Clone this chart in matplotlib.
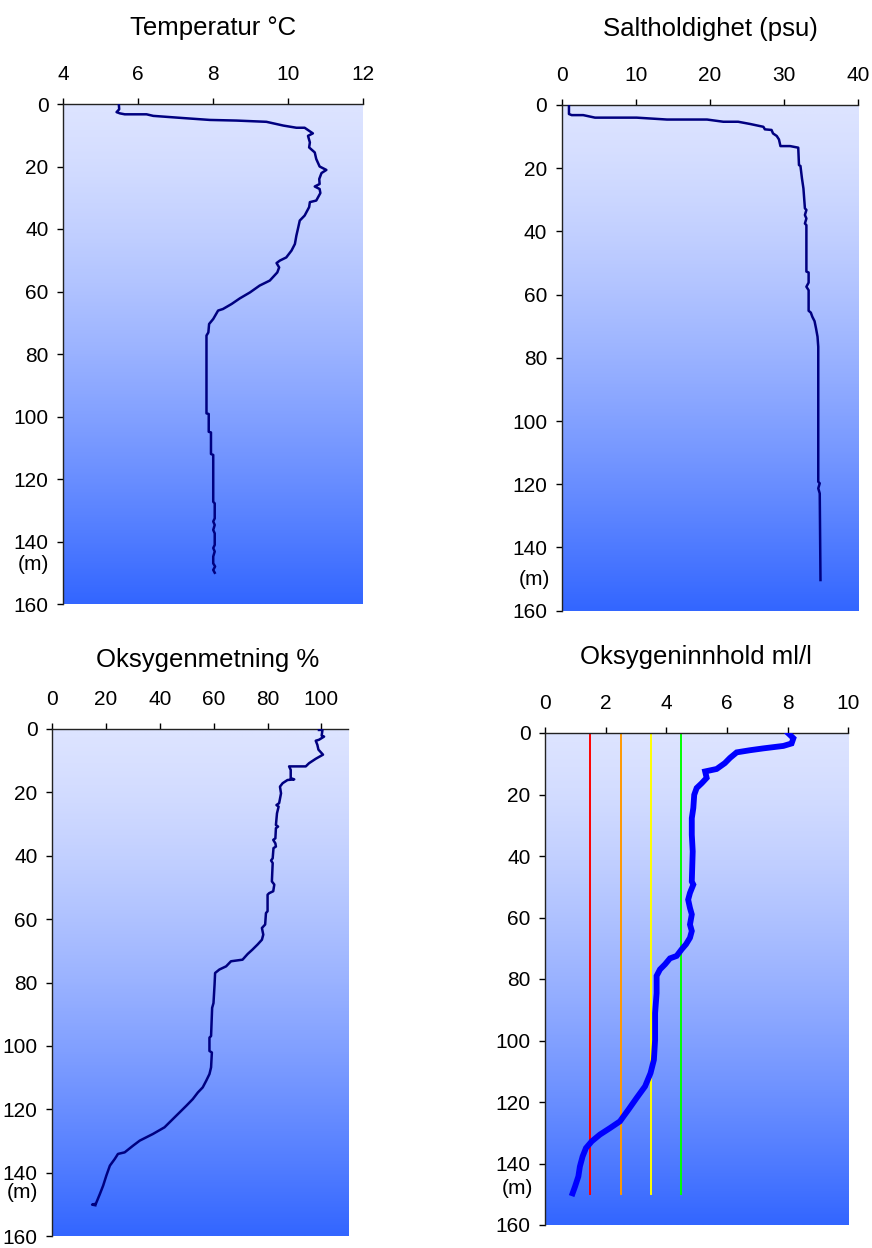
import numpy as np
import matplotlib
matplotlib.use("Agg")
import matplotlib.pyplot as plt
from matplotlib.colors import LinearSegmentedColormap
import matplotlib.transforms as mtransforms

plt.rcParams['font.family'] = ['Liberation Sans', 'DejaVu Sans']

# ---------------- data ----------------
temp_depth = [0, 1.7, 2.6, 3.0, 3.3, 3.3, 3.8, 4.5, 5.1, 5.3, 5.7, 6.9, 7.6, 7.6, 9.4, 10.2,
              12.3, 13.9, 15.5, 17.6, 20.0, 21.1, 22.1, 24.0, 25.6, 26.4, 27.2, 28.5, 30.9,
              31.4, 33.0, 35.7, 37.3, 40.0, 42.1, 44.8, 46.9, 49.1, 50.1, 50.9, 52.3, 53.9,
              56.5, 58.1, 60.3, 62.2, 64.0, 65.6, 66.1, 68.8, 70.4, 73.1, 74.1, 99.0, 99.2,
              104.9, 105.1, 112.0, 112.3, 127.3, 127.8, 132.6, 133.6, 134.7, 136.3, 137.4,
              141.1, 142.1, 143.2, 144.8, 147.0, 148.0, 149.1, 150.0]
temp_val = [5.49, 5.5, 5.43, 5.52, 5.65, 6.23, 6.41, 7.21, 7.92, 8.63, 9.43, 9.88, 10.23, 10.45,
            10.67, 10.54, 10.59, 10.57, 10.72, 10.76, 10.85, 11.03, 10.9, 10.84, 10.85, 10.72,
            10.85, 10.87, 10.76, 10.59, 10.57, 10.45, 10.32, 10.27, 10.23, 10.19, 10.1, 9.96,
            9.79, 9.7, 9.77, 9.72, 9.52, 9.25, 8.99, 8.72, 8.5, 8.27, 8.14, 8.01, 7.9, 7.88,
            7.83, 7.83, 7.89, 7.89, 7.95, 7.95, 8.01, 8.01, 8.05, 8.05, 8.01, 8.05, 8.01, 8.05,
            8.05, 8.01, 8.05, 8.01, 8.01, 8.06, 8.01, 8.05]

salt_depth = [0, 2.85, 3.2, 3.2, 4.0, 4.0, 4.6, 4.6, 5.3, 5.3, 6.0, 6.9, 7.7, 7.9, 9.0, 9.8,
              10.9, 13.0, 13.0, 13.5, 19.0, 19.3, 23.2, 26.4, 32.7, 33.2, 34.8, 35.9, 37.5,
              38.0, 52.7, 53.0, 56.2, 57.5, 58.6, 65.1, 65.7, 67.0, 68.4, 70.7, 73.3, 76.5,
              119.2, 119.7, 121.3, 122.9, 150.3]
salt_val = [0.98, 0.98, 1.35, 2.9, 4.49, 10.1, 14.2, 19.6, 21.8, 23.8, 25.4, 27.2, 27.4, 28.3,
            28.5, 29.0, 29.3, 29.5, 30.8, 31.9, 32.0, 32.2, 32.4, 32.6, 32.8, 33.0, 32.8, 33.0,
            32.8, 33.0, 33.0, 33.3, 33.3, 33.0, 33.3, 33.3, 33.6, 33.8, 34.1, 34.3, 34.5, 34.6,
            34.6, 34.8, 34.6, 34.8, 34.9]

osat_depth = [0.3, 0.3, 2.1, 2.4, 3.4, 3.7, 5.0, 6.5, 8.1, 9.4, 10.8, 11.8, 11.8, 12.9, 15.5,
              15.9, 16.1, 17.1, 18.2, 20.3, 23.4, 24.0, 24.5, 26.6, 30.3, 30.8, 31.3, 34.5,
              35.0, 36.1, 37.1, 37.6, 40.8, 41.5, 42.3, 48.1, 49.1, 51.2, 51.8, 52.3, 57.5,
              58.1, 61.7, 62.8, 64.9, 66.5, 68.0, 69.6, 71.0, 72.8, 73.3, 74.9, 75.9, 77.0,
              80.7, 86.5, 88.0, 96.9, 97.4, 101.6, 102.1, 106.8, 108.9, 111.0, 113.1, 114.7,
              116.8, 118.9, 121.0, 123.6, 125.7, 127.8, 129.9, 131.5, 133.6, 134.1, 135.7,
              137.8, 140.9, 144.1, 146.7, 149.8, 150.1, 150.3]
osat_val = [99.1, 100.4, 100.1, 101.0, 99.1, 97.9, 98.5, 98.9, 100.6, 97.9, 95.4, 94.2, 88.0,
            88.6, 88.6, 89.9, 87.4, 85.6, 84.6, 85.0, 84.3, 83.3, 84.1, 83.5, 83.1, 83.9, 83.1,
            82.9, 82.1, 82.9, 83.1, 82.2, 81.9, 81.3, 81.9, 81.6, 82.5, 82.1, 80.6, 80.0, 80.0,
            79.4, 79.1, 77.9, 78.4, 77.9, 76.3, 74.4, 72.6, 70.7, 66.4, 64.6, 62.1, 60.5, 60.3,
            59.9, 59.4, 59.0, 58.4, 58.4, 59.3, 59.0, 58.4, 57.2, 55.9, 54.1, 52.2, 49.8, 47.3,
            44.2, 41.7, 37.4, 32.5, 30.0, 26.9, 24.4, 23.2, 21.4, 20.1, 18.9, 17.7, 16.2, 14.8,
            16.0]

oxy_depth = [0.1, 1.7, 3.4, 4.2, 5.0, 5.6, 6.3, 8.1, 9.8, 11.7, 12.5, 14.6, 16.3, 17.9, 20.1,
             24.4, 27.7, 33.1, 38.5, 48.3, 49.3, 52.0, 54.2, 56.9, 59.0, 62.3, 64.4, 66.6,
             68.7, 70.3, 72.5, 73.3, 75.2, 76.9, 79.0, 84.6, 91.1, 99.8, 106.3, 110.6, 114.9,
             118.7, 122.5, 126.3, 128.5, 130.6, 132.8, 135.0, 137.7, 141.0, 144.2, 147.5, 149.7]
oxy_val = [8.02, 8.19, 8.13, 7.86, 7.2, 6.76, 6.32, 6.1, 5.93, 5.66, 5.28, 5.33, 5.17, 5.0,
           4.92, 4.89, 4.84, 4.84, 4.87, 4.84, 4.89, 4.78, 4.72, 4.78, 4.84, 4.78, 4.84, 4.78,
           4.65, 4.51, 4.34, 4.12, 3.96, 3.79, 3.68, 3.68, 3.63, 3.63, 3.59, 3.48, 3.30, 3.02,
           2.75, 2.47, 2.14, 1.81, 1.54, 1.35, 1.24, 1.15, 1.10, 0.99, 0.91]

# oxygen class limits (ml/l) and colours
class_limits = [1.5, 2.5, 3.5, 4.5]
class_colors = ['#FF0000', '#FF9900', '#FFFF00', '#00FF00']
class_depth = [0, 150]

titles = ['Temperatur \u00b0C', 'Saltholdighet (psu)', 'Oksygenmetning %', 'Oksygeninnhold ml/l']
xlims = [(4, 12), (0, 40), (0, 110), (0, 10)]
xticks = [[4, 6, 8, 10, 12], [0, 10, 20, 30, 40], [0, 20, 40, 60, 80, 100], [0, 2, 4, 6, 8, 10]]
yticks = [0, 20, 40, 60, 80, 100, 120, 140, 160]

# ---------------- layout ----------------
W, H = 872, 1248
fig = plt.figure(figsize=(W / 100, H / 100), dpi=100)

def px_axes(l, t, r, b):
    return fig.add_axes([l / W, 1 - b / H, (r - l) / W, (b - t) / H])

boxes = [(63, 104, 362.7, 604), (561.7, 105, 858.3, 610.7),
         (52.3, 729, 348.3, 1236), (545, 733, 848.3, 1225)]
title_pos = [(213, 28), (710, 29), (208, 660), (696, 657)]
m_pos = [(-30, 147.5), (-27, 150), (-30, 146.4), (-28, 148)]

cmap = LinearSegmentedColormap.from_list('bg', ['#DCE3FF', '#3366FF'])
grad = np.linspace(0, 1, 256) ** 1.35
grad = grad.reshape(-1, 1)

series = [(temp_val, temp_depth), (salt_val, salt_depth), (osat_val, osat_depth), (oxy_val, oxy_depth)]

for i, box in enumerate(boxes):
    ax = px_axes(*box)
    ax.imshow(grad, extent=[0, 1, 0, 1], transform=ax.transAxes, aspect='auto',
              cmap=cmap, origin='upper', zorder=0, interpolation='bilinear')
    xv, dv = series[i]
    if i == 3:
        for lim, c in zip(class_limits, class_colors):
            ax.plot([lim, lim], class_depth, color=c, lw=1.4, zorder=2)
        ax.plot(xv, dv, color='#0000FF', lw=4.2, zorder=3, solid_joinstyle='miter')
    else:
        ax.plot(xv, dv, color='#000080', lw=1.8, zorder=3)
    ax.set_xlim(*xlims[i])
    ax.set_ylim(160, 0)
    ax.set_xticks(xticks[i])
    ax.set_yticks(yticks)
    ax.xaxis.tick_top()
    ax.tick_params(axis='x', direction='out', length=4, width=1, pad=10.5, labelsize=15)
    ax.tick_params(axis='y', direction='out', length=4.5, width=1, pad=6, labelsize=15)
    for s in ['right', 'bottom']:
        ax.spines[s].set_visible(False)
    for s in ['top', 'left']:
        ax.spines[s].set_linewidth(1)
        ax.spines[s].set_color('#222222')
    trans = mtransforms.blended_transform_factory(ax.transAxes, ax.transData)
    ax.annotate('(m)', xy=(0, m_pos[i][1]), xycoords=trans,
                xytext=(m_pos[i][0] * 0.72, 0), textcoords='offset points',
                ha='center', va='center', fontsize=15, annotation_clip=False)
    fig.text(title_pos[i][0] / W, 1 - title_pos[i][1] / H, titles[i],
             ha='center', va='center', fontsize=18.5)

fig.savefig('out.png', dpi=100)
